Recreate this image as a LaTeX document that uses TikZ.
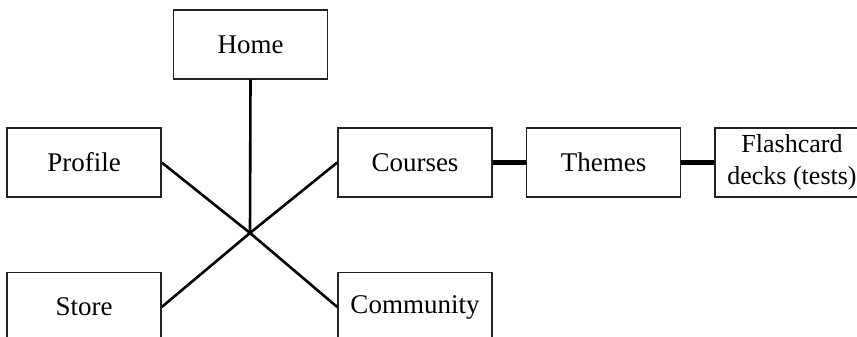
\documentclass[tikz,border=0pt]{standalone}
\usepackage{fontspec}
\setmainfont{Liberation Serif}
\usepackage{tikz}
\usetikzlibrary{positioning}
\tikzstyle{siteMap} = [x = 1pt, y = -1pt]
\definecolor{boxColor}{RGB}{35,35,35}
\tikzstyle{pageBox} = [draw=boxColor, fill=white, line width=1.5pt, minimum width=154pt, minimum height=69pt, inner sep=0pt, align=center, font=\fontsize{27}{32}\selectfont]
\tikzstyle{linkLine} = [color=black, line width=2.6pt]
\tikzstyle{chainLine} = [color=black, line width=5pt]

\begin{document}
\begin{tikzpicture}[siteMap]
  \clip (0,0) rectangle (857,337);
  \useasboundingbox (0,0) rectangle (857,337);
  % pages around the hub
  \node [pageBox] (home) at (250.5,44.5) {Home};
  \node [pageBox] (profile) at (84,162.5) {Profile};
  \node [pageBox] (courses) at (415,162.5) {Courses};
  \node [pageBox] (store) at (84,307) {Store};
  \node [pageBox] (community) at (415,307) {Community};
  % course chain
  \node [pageBox, right=33pt of courses] (themes) {Themes};
  \node [pageBox, right=33pt of themes, font=\fontsize{26}{32}\selectfont] (decks) {Flashcard\\decks (tests)};
  \coordinate (hub) at (250,233);
  \draw [linkLine] (home.south) -- (hub);
  \draw [linkLine] (profile.east) -- (hub) -- (community.west);
  \draw [linkLine] (store.east) -- (hub) -- (courses.west);
  \draw [chainLine] (courses) -- (themes);
  \draw [chainLine] (themes) -- (decks);
\end{tikzpicture}
\end{document}
